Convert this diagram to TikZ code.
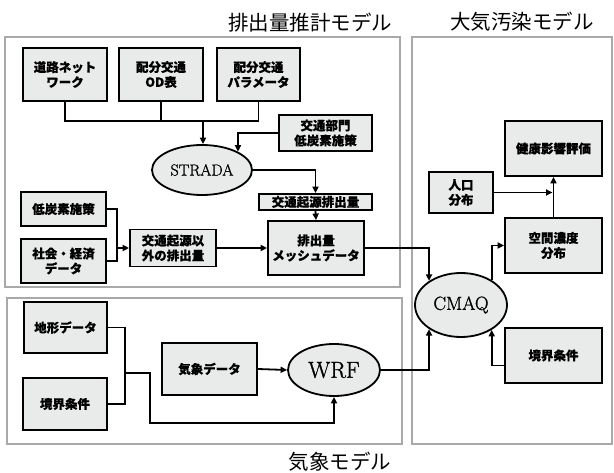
\documentclass[tikz,border=0pt]{standalone}
\usepackage{fontspec}
\newfontfamily\jp{Noto Sans CJK JP}[BoldFeatures={FakeBold=0.5}]
\newfontfamily\ltn{Latin Modern Roman}[FakeBold=1.2]
\usetikzlibrary{arrows.meta,shapes.geometric,calc}
\definecolor{boxfill}{HTML}{E9EAEA}
\definecolor{framegray}{HTML}{A8AAAA}
\begin{document}
\begin{tikzpicture}[x=1pt,y=-1pt,
 box/.style={draw=black,line width=1.8pt,fill=boxfill,inner sep=0pt,align=center,font=\jp\bfseries\fontsize{12.5}{15}\selectfont},
 ell/.style={ellipse,draw=black,line width=1.8pt,fill=boxfill,inner sep=0pt},
 frame/.style={draw=framegray,line width=2.4pt},
 conn/.style={line width=1.8pt},
 arr/.style={conn,-{Triangle[length=6.5pt,width=6pt]}},
 title/.style={font=\jp\fontsize{20.5}{24}\selectfont,inner sep=0pt}]
\useasboundingbox (0,0) rectangle (614,473);
% frames
\draw[frame] (5,37) rectangle (400,287);
\draw[frame] (7,298) rectangle (402,444);
\draw[frame] (412,37) rectangle (612,444);
% titles
\node[title] (t1) at (310,23) {排出量推計モデル};
\node[title] (t2) at (522,22) {大気汚染モデル};
\node[title] (t3) at (340,462) {気象モデル};
% emission model
\node[box,minimum width=84pt,minimum height=53pt] (road) at (65,74.5) {道路ネット\\ワーク};
\node[box,minimum width=84pt,minimum height=53pt] (od) at (161,74.5) {配分交通\\OD表};
\node[box,minimum width=83pt,minimum height=53pt] (param) at (258.5,74.5) {配分交通\\パラメータ};
\node[box,minimum width=93pt,minimum height=36pt] (lowc) at (325.5,133) {交通部門\\低炭素施策};
\node[ell,minimum width=100pt,minimum height=50pt,font=\ltn\fontsize{16}{18}\selectfont] (strada) at (202,170) {STRADA};
\node[box,minimum width=113pt,minimum height=16pt] (tre) at (315.5,202) {交通起源排出量};
\node[box,minimum width=96pt,minimum height=54pt] (mesh) at (316,248) {排出量\\メッシュデータ};
\node[box,minimum width=85pt,minimum height=34pt] (lc2) at (63.5,209) {低炭素施策};
\node[box,minimum width=85pt,minimum height=44pt] (socio) at (63.5,261) {社会・経済\\データ};
\node[box,minimum width=86pt,minimum height=37pt] (nont) at (173,248) {交通起源以\\外の排出量};
\coordinate (hj) at (203,121);
\coordinate (m1) at (117,248);
\draw[conn] (road.south) |- (param.south |- hj) -- (param.south);
\draw[conn] (od.south) -- (od.south |- hj);
\draw[arr] (hj) -- (hj |- strada.north);
\draw[arr] (lowc.west) -| (strada.27);
\draw[arr] (strada.east) -| (tre.north);
\draw[arr] (tre.south) -- (mesh.north);
\draw[conn] (lc2.east) -| (m1) |- (socio.east);
\draw[arr] (m1) -- (nont.west);
\draw[arr] (nont.east) -- (mesh.west);
% air pollution model
\node[ell,minimum width=92pt,minimum height=64pt,font=\ltn\fontsize{19}{22}\selectfont] (cmaq) at (461,305) {CMAQ};
\node[box,minimum width=97pt,minimum height=55pt] (health) at (553.5,148.5) {健康影響評価};
\node[box,minimum width=64pt,minimum height=41pt] (pop) at (461,192.5) {人口\\分布};
\node[box,minimum width=97pt,minimum height=55pt] (spatial) at (553.5,245.5) {空間濃度\\分布};
\node[box,minimum width=97pt,minimum height=55pt] (bnd2) at (553.5,355.5) {境界条件};
\draw[arr] (mesh.east) -| (cmaq.143);
\draw[arr] (cmaq.39) |- (spatial.west);
\draw[arr] (spatial.north) -- (health.south);
\draw[arr,shorten >=1pt] (pop.east) -- (pop.east -| spatial.north);
\draw[arr] ([yshift=-10pt]bnd2.west) -| (cmaq.-39);
% meteorology model
\node[box,minimum width=83pt,minimum height=51pt] (terrain) at (65.5,327.5) {地形データ};
\node[box,minimum width=84pt,minimum height=52pt] (bnd1) at (65,404) {境界条件};
\node[box,minimum width=95pt,minimum height=52pt] (metdata) at (209.5,369) {気象データ};
\node[ell,minimum width=92pt,minimum height=52pt,font=\ltn\fontsize{23}{26}\selectfont] (wrf) at (334,370) {WRF};
\coordinate (m2) at (125,373);
\coordinate (m3) at (150,423);
\draw[conn] (terrain.east) -| (m2) |- (bnd1.east);
\draw[arr] (m2) -| (m3) -| (wrf.south);
\draw[arr] (metdata.east) -- (wrf.west);
\draw[arr] (wrf.east) -| (cmaq.217);
\end{tikzpicture}
\end{document}
